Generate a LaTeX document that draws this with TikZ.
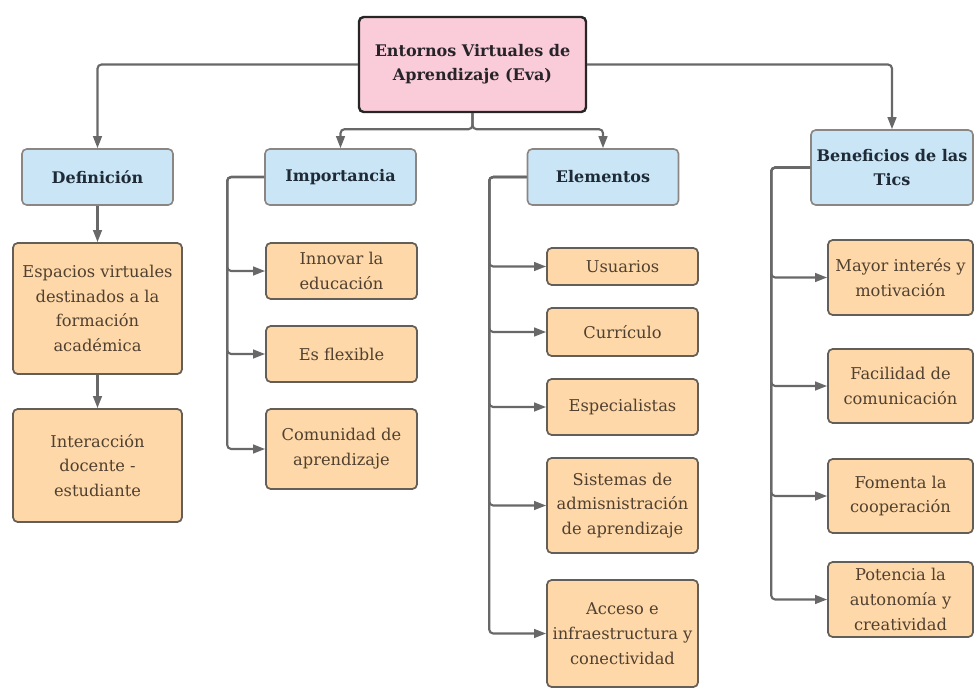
\documentclass[tikz,border=0pt]{standalone}
\usepackage{fontspec}
\setmainfont{DejaVu Serif}
\usetikzlibrary{arrows.meta, positioning}
\definecolor{EVArosa}{RGB}{250,204,217}
\definecolor{EVAazul}{RGB}{201,229,246}
\definecolor{EVAnaranja}{RGB}{254,216,168}
\definecolor{EVAlinea}{RGB}{104,104,104}
\definecolor{EVAborde}{RGB}{100,94,88}
\definecolor{EVAtexto}{RGB}{80,64,48}
\definecolor{EVAtitulo}{RGB}{30,42,54}

\begin{document}
\begin{tikzpicture}[
  x=0.75pt, y=-0.75pt,
  raiz/.style={draw=black!85, rounded corners=3.5pt, line width=1.8pt,
               fill=EVArosa, align=center, text=EVAtitulo!70!EVArosa!40!black,
               font=\fontsize{12}{18}\selectfont\bfseries,
               minimum width=170.25pt, minimum height=71.25pt, inner sep=2pt},
  encab/.style={draw=EVAborde!75, rounded corners=3.5pt, line width=1.2pt,
                fill=EVAazul, align=center, text=EVAtitulo,
                font=\fontsize{12}{18.5}\selectfont\bfseries,
                minimum width=113.25pt, minimum height=42pt, inner sep=2pt},
  hoja/.style={draw=EVAborde, rounded corners=3.5pt, line width=1.3pt,
               fill=EVAnaranja, align=center, text=EVAtexto,
               font=\fontsize{12.2}{18.6}\selectfont,
               minimum width=113.25pt, inner sep=1pt},
  arr/.style={-{Triangle[length=9pt, width=6.5pt]}, draw=EVAlinea,
              line width=1.6pt, rounded corners=3pt}
]
\useasboundingbox (0,0) rectangle (974,688);

%% ---- RAIZ ----
\node[raiz] (raiz) at (472.5, 64.5) {Entornos Virtuales de\\Aprendizaje (Eva)};

%% ---- ENCABEZADOS ----
\node[encab] (defi) at ( 97.5, 177) {Definición};
\node[encab] (impo) at (340.5, 177) {Importancia};
\node[encab] (elem) at (603.0, 177) {Elementos};
\node[encab, minimum width=121.5pt, minimum height=56.25pt]
             (bene) at (892.0, 167.5) {Beneficios de las\\Tics};

\draw[arr] (raiz.west) -| (defi.north);
\draw[arr] (raiz.east) -| (bene.north);
\draw[arr] (raiz.south) -- ++(0,16) -| (impo.north);
\draw[arr] (raiz.south) -- ++(0,16) -| (elem.north);

%% ---- DEFINICION ----
\node[hoja, minimum width=126.75pt, minimum height=98.25pt]
  (espa) at (97.5, 308.5) {Espacios virtuales\\destinados a la\\formación\\académica};
\node[hoja, minimum width=126.75pt, minimum height=84.75pt]
  (inte) at (97.5, 465.5) {Interacción\\docente -\\estudiante};

\draw[arr] (defi.south) -- (espa.north);
\draw[arr] (espa.south) -- (inte.north);

%% ---- IMPORTANCIA ----
\node[hoja, minimum height=42pt] (inno) at (341.5, 271) {Innovar la\\educación};
\node[hoja, minimum height=42pt] (flex) at (341.5, 354) {Es flexible};
\node[hoja, minimum height=60pt] (comu) at (341.5, 449) {Comunidad de\\aprendizaje};

\foreach \h in {inno, flex, comu}
  \draw[arr] (impo.west) -- ++(-37,0) |- (\h.west);

%% ---- ELEMENTOS ----
\node[hoja, minimum height=27.75pt] (usua) at (622.5, 266.5) {Usuarios};
\node[hoja, minimum height=36pt]    (curr) at (622.5, 332)   {Currículo};
\node[hoja, minimum height=42pt]    (espe) at (622.5, 407)   {Especialistas};
\node[hoja, minimum height=71.25pt] (sist) at (622.5, 505.5) {Sistemas de\\admisnistración\\de aprendizaje};
\node[hoja, minimum height=80.25pt] (acce) at (622.5, 633.5) {Acceso e\\infraestructura y\\conectividad};

\foreach \h in {usua, curr, espe, sist, acce}
  \draw[arr] (elem.west) -- ++(-37.5,0) |- (\h.west);

%% ---- BENEFICIOS ----
\node[hoja, minimum width=108.75pt, minimum height=56.25pt] (mayo) at (900.5, 277.5) {Mayor interés y\\motivación};
\node[hoja, minimum width=108.75pt, minimum height=55.5pt]  (faci) at (900.5, 386)   {Facilidad de\\comunicación};
\node[hoja, minimum width=108.75pt, minimum height=55.5pt]  (fome) at (900.5, 496)   {Fomenta la\\cooperación};
\node[hoja, minimum width=108.75pt, minimum height=56.25pt] (pote) at (900.5, 599.5) {Potencia la\\autonomía y\\creatividad};

\foreach \h in {mayo, faci, fome, pote}
  \draw[arr] (bene.west) -- ++(-39,0) |- (\h.west);

\end{tikzpicture}
\end{document}
